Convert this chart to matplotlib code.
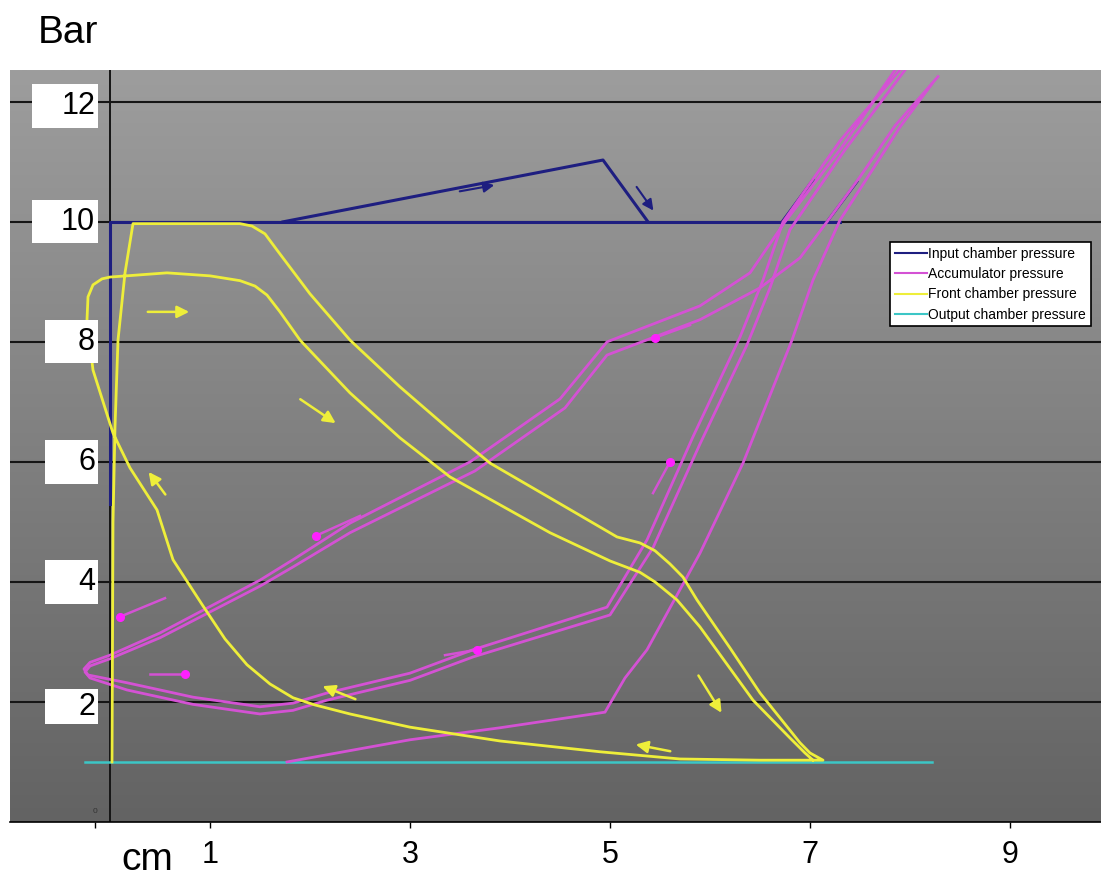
import numpy as np
import matplotlib
matplotlib.use('Agg')
from matplotlib import pyplot as plt
from matplotlib.colors import LinearSegmentedColormap
from matplotlib.patches import Rectangle

plt.rcParams['font.family'] = ['Liberation Sans', 'DejaVu Sans']

# ---- data (x in cm, y in bar) ----
input_x = [0.0, 0.0, 7.3]
input_y = [5.3, 10.0, 10.0]
input_peak_x = [1.73, 4.93, 5.38]
input_peak_y = [10.0, 11.03, 10.0]
input_up1_x = [6.72, 7.03]
input_up1_y = [10.0, 10.7]
input_up2_x = [7.17, 7.47]
input_up2_y = [10.0, 10.67]

acc_first_x = [1.77, 3.0, 3.9, 4.95, 5.15, 5.37, 5.9, 6.33, 6.82, 7.03, 7.3, 7.9, 8.22]
acc_first_y = [1.0, 1.37, 1.57, 1.83, 2.4, 2.87, 4.48, 5.98, 8.03, 9.03, 10.03, 11.58, 12.3]

acc_loop1_x = [7.85, 7.3, 6.75, 6.4, 5.9, 4.97, 4.5, 3.6, 2.4, 1.83, 1.5, 0.5, 0.0, -0.2, -0.26,
               -0.22, 0.17, 0.83, 1.5, 1.83, 2.17, 3.0, 3.63, 4.97, 5.37, 5.83, 6.3, 6.53, 6.73, 7.3, 7.9]
acc_loop1_y = [12.53, 11.2, 10.0, 9.15, 8.6, 8.0, 7.05, 6.0, 4.98, 4.37, 4.03, 3.15, 2.78, 2.66, 2.55,
               2.45, 2.32, 2.08, 1.92, 1.98, 2.15, 2.48, 2.87, 3.58, 4.7, 6.42, 8.08, 9.03, 10.0, 11.35, 12.53]
acc_loop2_x = [8.28, 7.85, 7.5, 7.17, 6.9, 6.5, 5.9, 4.97, 4.55, 3.65, 2.4, 1.83, 1.5, 0.5, 0.0, -0.2, -0.25,
               -0.2, 0.17, 0.83, 1.5, 1.83, 2.17, 3.0, 3.63, 5.0, 5.43, 5.9, 6.37, 6.6, 6.8, 7.35, 7.95]
acc_loop2_y = [12.42, 11.6, 10.75, 10.0, 9.4, 8.9, 8.37, 7.78, 6.9, 5.85, 4.82, 4.25, 3.93, 3.07, 2.72, 2.6, 2.5,
               2.4, 2.2, 1.96, 1.8, 1.86, 2.03, 2.36, 2.75, 3.45, 4.57, 6.3, 7.95, 8.9, 9.87, 11.2, 12.53]

front_x = [0.02, 0.03, 0.05, 0.08, 0.15, 0.23, 1.3, 1.42, 1.55, 1.67, 2.0, 2.4, 2.9, 3.4, 3.8, 4.4, 5.07,
           5.3, 5.45, 5.6, 5.73, 5.87, 6.2, 6.5, 6.9, 7.0, 7.13, 6.5, 5.7, 4.9, 3.9, 3.0, 2.4, 2.05, 1.83,
           1.6, 1.37, 1.15, 0.93, 0.63, 0.47, 0.2, 0.03, -0.17, -0.23, -0.22, -0.17, -0.08, 0.0, 0.57, 1.0,
           1.3, 1.45, 1.57, 1.7, 1.9, 2.4, 2.9, 3.4, 4.4, 5.0, 5.3, 5.45, 5.67, 5.9, 6.43, 6.8, 6.95, 7.03]
front_y = [1.0, 5.0, 6.58, 8.03, 9.15, 9.97, 9.97, 9.93, 9.8, 9.53, 8.8, 8.03, 7.25, 6.53, 5.98, 5.4, 4.75,
           4.65, 4.52, 4.3, 4.08, 3.7, 2.9, 2.15, 1.32, 1.15, 1.03, 1.03, 1.05, 1.17, 1.35, 1.58, 1.8, 1.95, 2.07,
           2.3, 2.62, 3.05, 3.6, 4.37, 5.2, 5.9, 6.48, 7.53, 8.37, 8.75, 8.95, 9.05, 9.08, 9.15, 9.1,
           9.02, 8.93, 8.78, 8.5, 8.03, 7.15, 6.4, 5.75, 4.82, 4.35, 4.16, 4.0, 3.7, 3.25, 2.03, 1.4, 1.15, 1.03]

output_x = [-0.25, 8.22]
output_y = [1.0, 1.0]

# direction arrows (tail, head)
front_arrows = [((0.35, 8.5), (0.82, 8.5)), ((1.88, 7.07), (2.28, 6.62)), ((0.57, 5.42), (0.37, 5.87)),
                ((2.48, 2.03), (2.1, 2.28)), ((5.87, 2.48), (6.13, 1.78)), ((5.63, 1.17), (5.23, 1.3))]
input_arrows = [((3.47, 10.5), (3.87, 10.62)), ((5.25, 10.62), (5.45, 10.15))]
acc_arrows = [((0.55, 3.73), (0.1, 3.42)), ((0.4, 2.47), (0.75, 2.47)), ((2.5, 5.1), (2.06, 4.77)),
              ((3.35, 2.78), (3.67, 2.87)), ((5.8, 8.28), (5.45, 8.07)), ((5.43, 5.48), (5.6, 6.0))]

grid_levels = [2, 4, 6, 8, 10, 12]
y_labels = ['2', '4', '6', '8', '10', '12']
y_label_pos = [1.92, 4.0, 6.0, 8.0, 10.0, 11.93]
x_ticks = [1, 3, 5, 7, 9]

navy = '#1e1e80'
magenta = '#d452d4'
yellow = '#eeee3a'
cyan = '#3cc6c6'

fig = plt.figure(figsize=(11.01, 8.76), dpi=100)
ax = fig.add_axes([10 / 1101, 54 / 876, 1 - 10 / 1101, 752 / 876])
ax.set_xlim(-1.0, 9.91)
ax.set_ylim(0, 12.53)

# gradient background
cmap = LinearSegmentedColormap.from_list('bg', ['#636363', '#9d9d9d'])
grad = np.linspace(0, 1, 256).reshape(-1, 1)
ax.imshow(grad, extent=[-1.0, 9.91, 0, 12.53], origin='lower', aspect='auto', cmap=cmap, zorder=0)

for g in grid_levels:
    ax.axhline(g, color='#151515', lw=1.5, zorder=1)
ax.axvline(0, color='#151515', lw=1.4, zorder=1)

ax.plot(input_x, input_y, color=navy, lw=2.2, zorder=2)
ax.plot(input_peak_x, input_peak_y, color=navy, lw=2.2, zorder=2)
ax.plot(input_up1_x, input_up1_y, color=navy, lw=2.0, zorder=2)
ax.plot(input_up2_x, input_up2_y, color=navy, lw=2.0, zorder=2)

ax.plot(output_x, output_y, color=cyan, lw=1.8, zorder=2.5)

ax.plot(acc_first_x, acc_first_y, color=magenta, lw=2.0, zorder=3)
ax.plot(acc_loop1_x, acc_loop1_y, color=magenta, lw=2.0, zorder=3)
ax.plot(acc_loop2_x, acc_loop2_y, color=magenta, lw=2.0, zorder=3)

ax.plot(front_x, front_y, color=yellow, lw=2.0, zorder=4)

for tail, head in front_arrows:
    ax.annotate('', xy=head, xytext=tail,
                arrowprops=dict(arrowstyle='-|>', color=yellow, lw=1.8, mutation_scale=18), zorder=5)
for tail, head in input_arrows:
    ax.annotate('', xy=head, xytext=tail,
                arrowprops=dict(arrowstyle='-|>', color=navy, lw=1.5, mutation_scale=16), zorder=5)
for tail, head in acc_arrows:
    ax.plot([tail[0], head[0]], [tail[1], head[1]], color=magenta, lw=1.8, zorder=5)
    ax.plot(head[0], head[1], 'o', color='#ff20ff', ms=5.5, zorder=5)

# legend
ax.plot([], [], color=navy, lw=1.5, label='Input chamber pressure')
ax.plot([], [], color=magenta, lw=1.5, label='Accumulator pressure')
ax.plot([], [], color=yellow, lw=1.5, label='Front chamber pressure')
ax.plot([], [], color=cyan, lw=1.5, label='Output chamber pressure')
handles, labels = ax.get_legend_handles_labels()
leg = fig.legend(handles[-4:], labels[-4:], loc='upper left',
                 bbox_to_anchor=(890 / 1101, 1 - 242 / 876), bbox_transform=fig.transFigure,
                 fontsize=10, frameon=True, fancybox=False, framealpha=1, edgecolor='black',
                 borderpad=0.35, labelspacing=0.45, handlelength=2.3, handletextpad=0.1,
                 borderaxespad=0)
leg.get_frame().set_linewidth(1.2)

# y labels in white boxes
for lab, pos in zip(y_labels, y_label_pos):
    w = 0.66 if len(lab) == 2 else 0.53
    h = 0.58 if lab == '2' else 0.72
    ax.add_patch(Rectangle((-0.12 - w, pos - h / 2), w, h, facecolor='white', edgecolor='none',
                           zorder=6, clip_on=False))
    ax.text(-0.15, pos, lab, ha='right', va='center', fontsize=22, zorder=7)

ax.text(-0.15, 0.12, '0', fontsize=6, color='#333333', ha='center', va='bottom', zorder=6)

# x axis
for s in ['left', 'right', 'top']:
    ax.spines[s].set_visible(False)
ax.spines['bottom'].set_color('black')
ax.spines['bottom'].set_linewidth(1.2)
ax.set_yticks([])
ax.set_xticks(x_ticks)
ax.set_xticklabels([str(t) for t in x_ticks])
ax.set_xticks([-0.15], minor=True)
ax.tick_params(axis='x', which='both', direction='out', length=4.3, width=1, color='black',
               labelsize=22, pad=9)

fig.text(38 / 1101, 1 - 43 / 876, 'Bar', fontsize=28, va='baseline')
fig.text(121 / 1101, 1 - 870 / 876, 'cm', fontsize=28, va='baseline')

fig.savefig('out.png', dpi=100)
